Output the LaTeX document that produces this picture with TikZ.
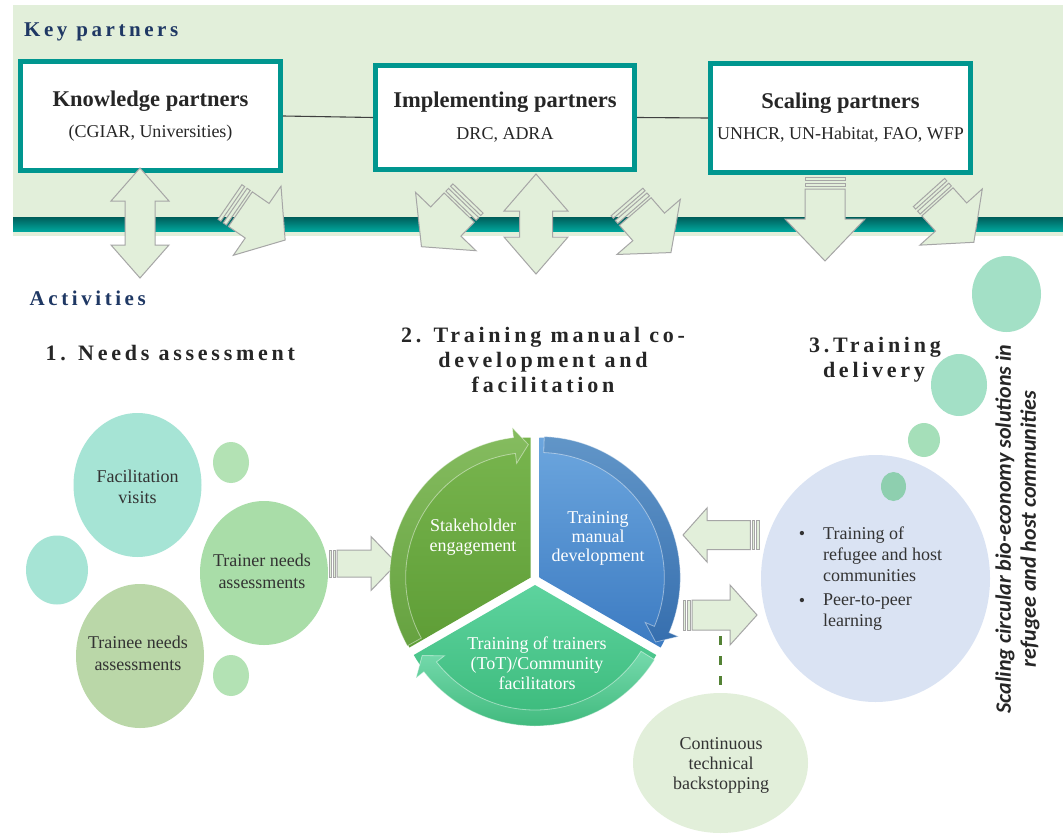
\documentclass[tikz,border=0pt]{standalone}
\usepackage{fontspec}
\setmainfont{Liberation Serif}
\newfontfamily\headfont[LetterSpace=17]{Liberation Serif}
\newfontfamily\vertfont{Carlito}
\usetikzlibrary{calc,shapes.geometric}
\definecolor{bgg}{HTML}{E2EFDA}
\definecolor{tealb}{HTML}{00968F}
\definecolor{barTop}{HTML}{005E5A}
\definecolor{barBot}{HTML}{00A59C}
\definecolor{navy}{HTML}{1F3864}
\definecolor{arrline}{HTML}{A6A6A6}
\definecolor{txt}{HTML}{333333}
\definecolor{aqua}{HTML}{A6E4D5}
\definecolor{lgreen}{HTML}{B3E2B4}
\definecolor{tgreen}{HTML}{A9DDA8}
\definecolor{sage}{HTML}{BAD7A8}
\definecolor{mint}{HTML}{A3E0C6}
\definecolor{mintb}{HTML}{A5DFB9}
\definecolor{mintc}{HTML}{8ECFAF}
\definecolor{lblue}{HTML}{DAE3F3}
\definecolor{gTop}{HTML}{78B54E}
\definecolor{gBot}{HTML}{5E9D36}
\definecolor{bTop}{HTML}{6CA6DE}
\definecolor{bBot}{HTML}{3C7BC2}
\definecolor{tTop}{HTML}{5DD39E}
\definecolor{tBot}{HTML}{36B676}
\definecolor{dashc}{HTML}{548235}
\definecolor{headc}{HTML}{262626}

\tikzset{
  blk/.style={fill=bgg, draw=arrline, line width=1pt, line join=miter},
  pbox/.style={draw=tealb, line width=5pt, fill=white, inner sep=0pt},
  ttl/.style={font=\bfseries\fontsize{22.5}{26}\selectfont, text=black!85, inner sep=0pt},
  subt/.style={font=\fontsize{18}{21}\selectfont, text=black!85, inner sep=0pt},
  conn/.style={draw=black!75, line width=1.1pt},
  blob/.style={ellipse, draw=none, inner sep=0pt},
  body/.style={font=\fontsize{18}{21}\selectfont, text=txt, align=center, inner sep=0pt},
  pietxt/.style={font=\fontsize{18}{20}\selectfont, text=white, align=center, inner sep=0pt},
  headA/.style={font=\headfont\bfseries\fontsize{21}{25}\selectfont, text=navy, inner sep=0pt},
  headB/.style={font=\headfont\bfseries\fontsize{22}{25}\selectfont, text=headc, inner sep=0pt},
  dashline/.style={draw=dashc, line width=3pt, dash pattern=on 9pt off 11pt},
  band/.style={draw=white, draw opacity=0.45, line width=0.8pt}
}

% striped arrow: x, y (tail), rotation, shaft length, shaft width, head length, head width
\newcommand\stripedarr[7]{%
\begin{scope}[shift={(#1,#2)}, rotate=#3]
 \pgfmathsetmacro\sawh{#5/2}\pgfmathsetmacro\sahh{#7/2}
 \pgfmathsetmacro\saa{0.08*#5}\pgfmathsetmacro\sab{0.15*#5}
 \pgfmathsetmacro\sac{0.24*#5}\pgfmathsetmacro\sad{0.3*#5}
 \pgfmathsetmacro\satip{#4+#6}
 \draw[blk] (0,-\sawh) rectangle (\saa,\sawh);
 \draw[blk] (\sab,-\sawh) rectangle (\sac,\sawh);
 \draw[blk] (\sad,-\sawh) -- (#4,-\sawh) -- (#4,-\sahh) -- (\satip,0) -- (#4,\sahh) -- (#4,\sawh) -- (\sad,\sawh) -- cycle;
\end{scope}}

% double vertical arrow: cx, ytop, ybot, head width, shaft width, head length
\newcommand\dblarr[6]{%
\begin{scope}[shift={(#1,#2)}]
 \pgfmathsetmacro\daL{#3-#2}\pgfmathsetmacro\daa{#4/2}\pgfmathsetmacro\dab{#5/2}
 \pgfmathsetmacro\dac{#6}\pgfmathsetmacro\dad{#3-#2-#6}
 \draw[blk] (0,0) -- (\daa,\dac) -- (\dab,\dac) -- (\dab,\dad) -- (\daa,\dad) -- (0,\daL)
   -- (-\daa,\dad) -- (-\dab,\dad) -- (-\dab,\dac) -- (-\daa,\dac) -- cycle;
\end{scope}}

\begin{document}
\begin{tikzpicture}[x=1pt,y=-1pt]
\useasboundingbox (0,0) rectangle (1063,835);
\fill[white] (0,0) rectangle (1063,835);

% top band
\fill[bgg] (13,5) rectangle (1063,236);
\shade[top color=barTop, bottom color=barBot] (13,217) rectangle (1063,231);

% partner boxes
\node[pbox, minimum width=260pt, minimum height=109pt] (kp) at (150.5,116) {};
\node[pbox, minimum width=259pt, minimum height=104pt] (ip) at (505,117.5) {};
\node[pbox, minimum width=260pt, minimum height=109pt] (sp) at (840.5,118) {};
\draw[conn] (kp.east) -- (ip.west);
\draw[conn] (ip.east) -- (sp.west);

\node[ttl] (kpt) at (150.5,101) {Knowledge partners};
\node[subt] (kps) at (150.5,133) {(CGIAR, Universities)};
\node[ttl] (ipt) at (505,102) {Implementing partners};
\node[subt] (ips) at (505,135) {DRC, ADRA};
\node[ttl] (spt) at (840.5,103) {Scaling partners};
\node[subt] (sps) at (840.5,135) {UNHCR, UN-Habitat, FAO, WFP};

\node[headA, anchor=base west] (kph) at (24,36) {Key partners};

% arrows between levels
\dblarr{140}{168}{278}{58}{30}{33}
\dblarr{536}{174}{274}{64}{33}{37}
\stripedarr{230}{202}{-34.6}{33}{42}{34}{84}
\stripedarr{468}{198.5}{-134}{32}{42}{35}{84}
\stripedarr{627}{202}{-49}{33}{42}{34}{84}
\stripedarr{929}{192.5}{-48}{33}{42}{34}{84}
\stripedarr{825}{177}{-90}{42}{40}{42}{80}

% headings
\node[headA, anchor=base west] (acth) at (29.5,305) {Activities};
\node[headB, anchor=base west] (h1) at (45.5,360) {1. Needs assessment};
\node[headB, anchor=base] (h2a) at (543,342) {2. Training manual co-};
\node[headB, anchor=base] (h2b) at (543,367) {development and};
\node[headB, anchor=base] (h2c) at (543,392) {facilitation};
\node[headB, anchor=base] (h3a) at (875,352) {3.Training};
\node[headB, anchor=base] (h3b) at (874,377) {delivery};

% needs assessment bubbles
\node[blob, fill=aqua, minimum width=128pt, minimum height=144pt] (fv) at (137.5,485) {};
\node[blob, fill=lgreen, minimum width=36pt, minimum height=41pt] (s1) at (231,462.5) {};
\node[blob, fill=aqua, minimum width=62pt, minimum height=69pt] (s2) at (57,570) {};
\node[blob, fill=sage, minimum width=128pt, minimum height=144pt] (tn) at (140,656) {};
\node[blob, fill=tgreen, minimum width=128pt, minimum height=144pt] (trn) at (264,573) {};
\node[blob, fill=lgreen, minimum width=36pt, minimum height=41pt] (s3) at (231,675.5) {};
\node[body] (fvt) at (137.5,487) {Facilitation\\visits};
\node[body, font=\fontsize{18}{22}\selectfont] (trnt) at (262,571.5) {Trainer needs\\assessments};
\node[body, font=\fontsize{18}{22}\selectfont] (tnt) at (138,653.5) {Trainee needs\\assessments};

\stripedarr{329}{563.5}{0}{42}{27}{26}{54}

% pie cycle
\coordinate (C) at (535,580);
\begin{scope}[shift={(C)}, shift={(210:5)}]
 \shade[top color=gTop, bottom color=gBot] (0,0) -- (150:140) arc[start angle=150, end angle=270, radius=140] -- cycle;
 \shade[top color=gTop!90!white, bottom color=gBot!95!white, band]
   (151:141) arc[start angle=151, end angle=263, radius=141] -- (263:151) -- (269:133) -- (263:115) -- (263:125)
   arc[start angle=263, end angle=151, radius=125] -- cycle;
\end{scope}
\begin{scope}[shift={(C)}, shift={(330:5)}]
 \shade[top color=bTop, bottom color=bBot] (0,0) -- (270:140) arc[start angle=270, end angle=390, radius=140] -- cycle;
 \shade[top color=bTop!90!black, bottom color=bBot!90!black, band]
   (272:141) arc[start angle=272, end angle=383, radius=141] -- (383:151) -- (389:133) -- (383:115) -- (383:125)
   arc[start angle=383, end angle=272, radius=125] -- cycle;
\end{scope}
\begin{scope}[shift={(C)}, shift={(90:5)}]
 \shade[top color=tTop, bottom color=tBot] (0,0) -- (30:140) arc[start angle=30, end angle=150, radius=140] -- cycle;
 \shade[top color=tTop!85!white, bottom color=tBot!95!white, band]
   (32:141) arc[start angle=32, end angle=142, radius=141] -- (142:151) -- (148:133) -- (142:115) -- (142:125)
   arc[start angle=142, end angle=32, radius=125] -- cycle;
\end{scope}
\node[pietxt] (se) at (473,537) {Stakeholder\\engagement};
\node[pietxt, font=\fontsize{18}{19}\selectfont] (tm) at (598,538) {Training\\manual\\development};
\node[pietxt] (tot) at (537,663) {Training of trainers\\(ToT)/Community\\facilitators};

% arrows between pie and delivery
\stripedarr{759}{535}{180}{52}{29}{24}{54}
\stripedarr{683}{615}{0}{47}{30}{27}{60}

% delivery bubbles
\node[blob, fill=mint, minimum width=69pt, minimum height=76pt] (r1) at (1006.5,294) {};
\node[blob, fill=mint, minimum width=56pt, minimum height=62pt] (r2) at (959,385) {};
\node[blob, fill=mintb, minimum width=32pt, minimum height=34pt] (r3) at (924,440) {};
\node[blob, fill=lblue, minimum width=229pt, minimum height=247pt] (td) at (875.5,578.5) {};
\node[blob, fill=mintc, minimum width=25pt, minimum height=29pt] (r4) at (893.5,486.5) {};

\node[body, anchor=north west, align=left] (b1) at (823,527) {Training of\\refugee and host\\communities};
\node[body, anchor=north west, align=left] (b2) at (823,594) {Peer-to-peer\\learning};
\node[body, font=\fontsize{18}{20}\selectfont] (b1d) at (802,535) {•};
\node[body, font=\fontsize{18}{20}\selectfont] (b2d) at (802,602) {•};

% backstopping
\coordinate (dtop) at (720.5,636);
\node[blob, fill=bgg, minimum width=175pt, minimum height=140pt] (cb) at (720.5,763) {};
\draw[dashline] (dtop) -- (cb.north);
\node[body, font=\fontsize{18}{20}\selectfont] (cbt) at (721,765) {Continuous\\technical\\backstopping};

% vertical text
\node[rotate=90, align=center, inner sep=0pt, text=black!85,
      font=\vertfont\bfseries\itshape\fontsize{22}{25}\selectfont] (vt) at (1017.5,529)
  {Scaling circular bio-economy solutions in\\refugee and host communities};
\end{tikzpicture}
\end{document}
